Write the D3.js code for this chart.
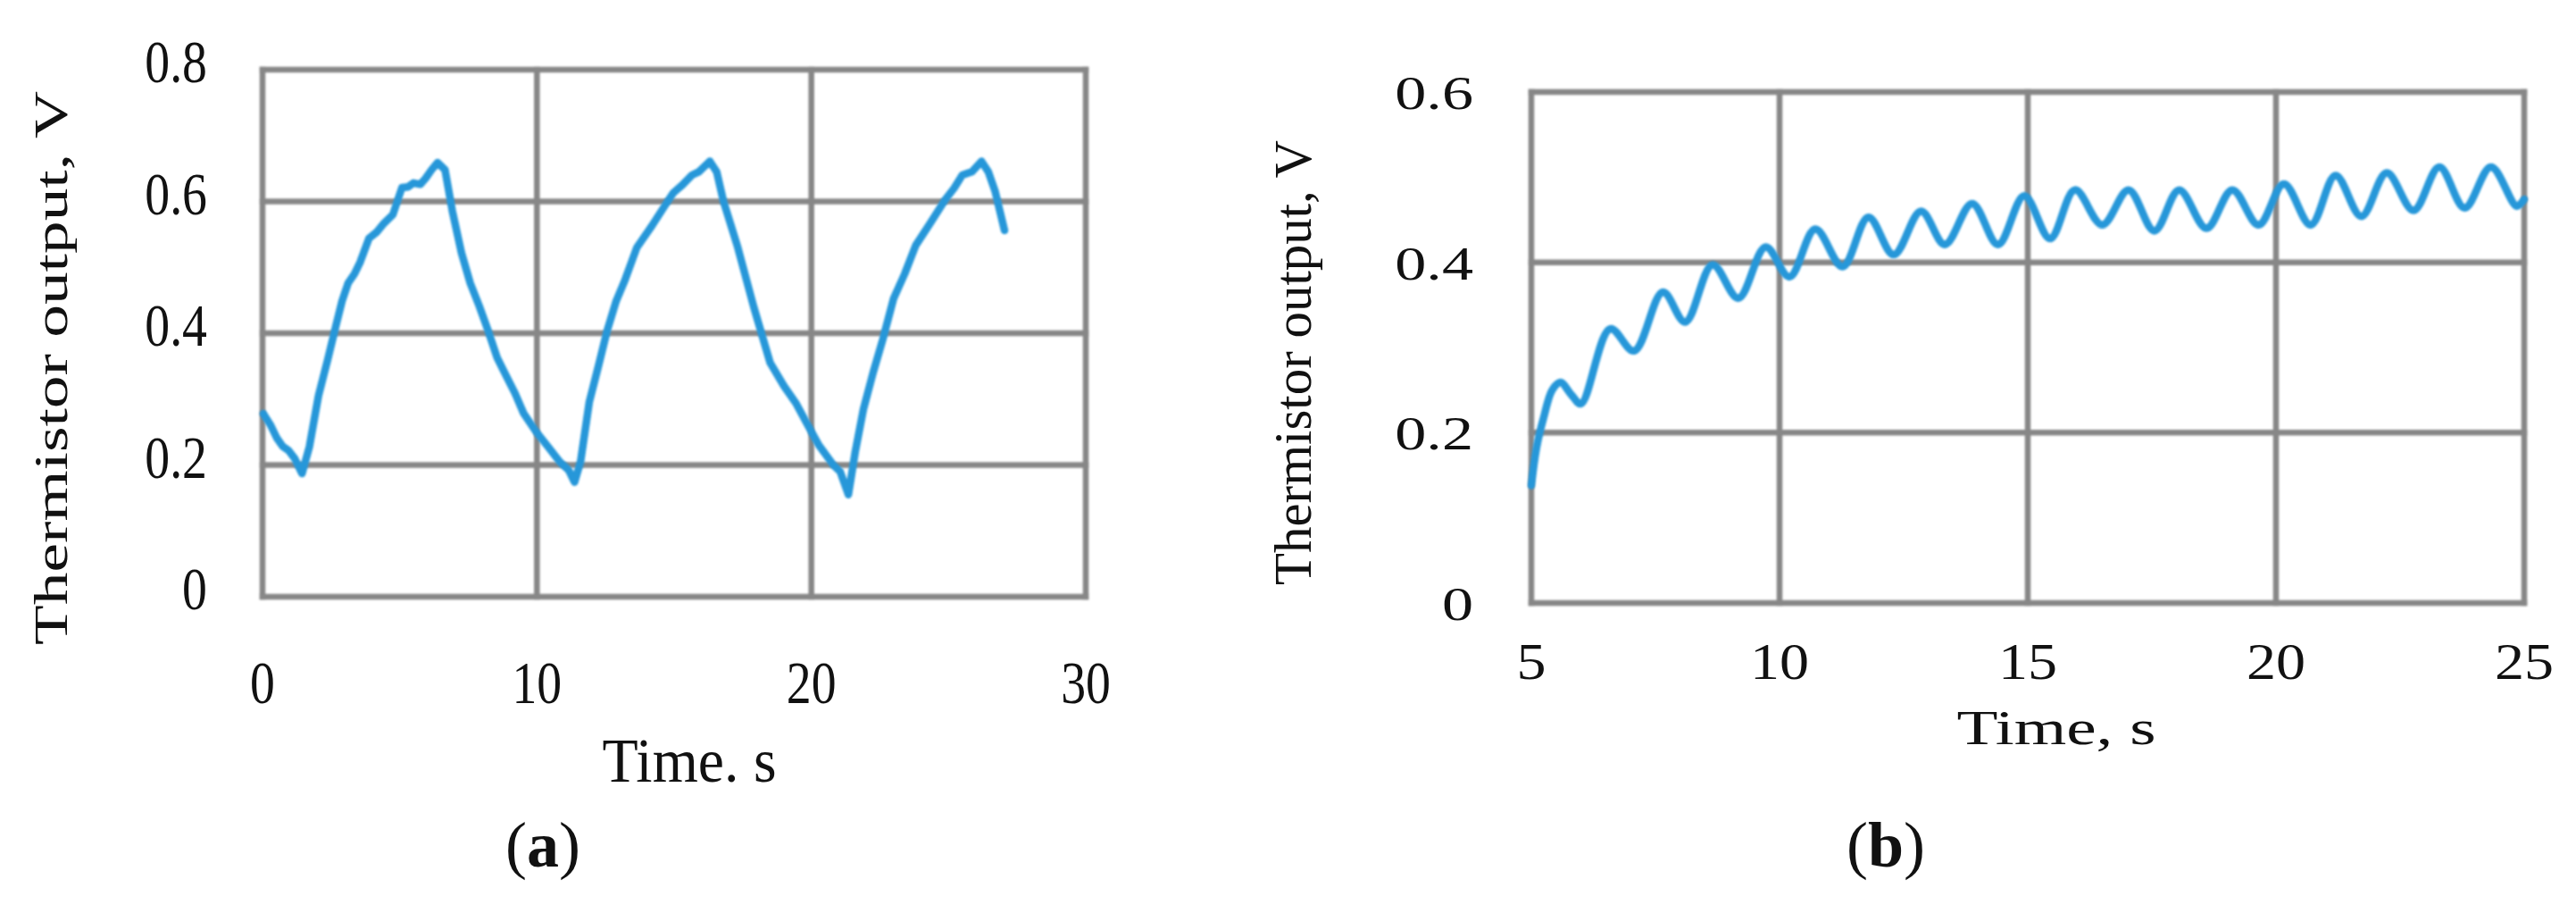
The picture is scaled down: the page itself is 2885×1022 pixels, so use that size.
<!DOCTYPE html>
<html>
<head>
<meta charset="utf-8">
<script src="https://cdn.jsdelivr.net/npm/d3@7"></script>
<style>
  body { margin: 0; background: #fff; }
  text { font-family: "Liberation Serif", "Times New Roman", serif; fill: #111; }
</style>
</head>
<body>
<svg></svg>
<script>
const width = 2885;
const height = 1022;

// panel (a): periodic heating
const timeA = [0.03, 0.3, 0.52, 0.74, 0.95, 1.17, 1.44, 1.71, 2.04, 2.37, 2.69, 2.9, 3.12, 3.35, 3.56,
  3.88, 4.15, 4.43, 4.75, 5.08, 5.3, 5.5, 5.75, 5.94, 6.16, 6.38, 6.65, 6.92, 7.25, 7.57, 7.9,
  8.22, 8.55, 8.87, 9.2, 9.52, 9.96, 10.4, 10.83, 11.16, 11.37, 11.59, 11.91, 12.24, 12.56, 12.89,
  13.21, 13.64, 14.19, 14.73, 14.97, 15.3, 15.65, 15.9, 16.3, 16.55, 16.8, 17.3, 17.9, 18.5, 19.0,
  19.45, 19.85, 20.26, 20.8, 21.05, 21.35, 21.6, 21.9, 22.25, 22.6, 23.0, 23.4, 23.8, 24.3, 24.9,
  25.2, 25.5, 25.85, 26.2, 26.45, 26.7, 27.04];
const voltA = [0.278, 0.26, 0.241, 0.228, 0.222, 0.21, 0.187, 0.228, 0.305, 0.359, 0.414, 0.449, 0.476, 0.49, 0.508,
  0.544, 0.553, 0.567, 0.58, 0.621, 0.622, 0.628, 0.626, 0.635, 0.648, 0.659, 0.648, 0.585, 0.522, 0.476, 0.441,
  0.404, 0.363, 0.336, 0.309, 0.278, 0.251, 0.228, 0.205, 0.192, 0.174, 0.205, 0.296, 0.35, 0.404, 0.449,
  0.481, 0.53, 0.563, 0.598, 0.613, 0.625, 0.64, 0.645, 0.661, 0.645, 0.6, 0.533, 0.44, 0.355, 0.32,
  0.293, 0.262, 0.231, 0.2, 0.19, 0.155, 0.22, 0.285, 0.34, 0.39, 0.453, 0.49, 0.533, 0.565, 0.604,
  0.62, 0.64, 0.645, 0.661, 0.645, 0.615, 0.556];

// panel (b): fast pulsing, peaks and troughs
const timeB = [5.0, 5.11, 5.25, 5.42, 5.59, 5.8, 6.0, 6.59, 7.07, 7.65, 8.1, 8.65, 9.17, 9.72, 10.2,
  10.72, 11.27, 11.79, 12.3, 12.85, 13.33, 13.88, 14.4, 14.93, 15.45, 15.95, 16.5, 17.03, 17.55,
  18.05, 18.6, 19.12, 19.65, 20.16, 20.7, 21.2, 21.72, 22.23, 22.77, 23.29, 23.8, 24.33, 24.85, 25.0];
const voltB = [0.138, 0.184, 0.218, 0.25, 0.259, 0.245, 0.234, 0.322, 0.296, 0.365, 0.33, 0.397, 0.358, 0.418, 0.383,
  0.439, 0.395, 0.453, 0.409, 0.46, 0.421, 0.469, 0.421, 0.478, 0.428, 0.485, 0.444, 0.485, 0.437,
  0.485, 0.44, 0.485, 0.444, 0.492, 0.444, 0.502, 0.454, 0.505, 0.461, 0.512, 0.464, 0.512, 0.466, 0.474];

const ticksAX = [0, 10, 20, 30];
const ticksAY = [0, 0.2, 0.4, 0.6, 0.8];
const labelsAY = ["0", "0.2", "0.4", "0.6", "0.8"];
const ticksBX = [5, 10, 15, 20, 25];
const ticksBY = [0, 0.2, 0.4, 0.6];
const labelsBY = ["0", "0.2", "0.4", "0.6"];

const svg = d3.select("svg")
  .attr("width", width)
  .attr("height", height);

svg.append("rect").attr("width", width).attr("height", height).attr("fill", "#fff");

const defs = svg.append("defs");
defs.append("filter").attr("id", "soft")
  .append("feGaussianBlur").attr("stdDeviation", 0.9);

// text helper: optional horizontal squeeze/stretch and rotation
function label(g, txt, x, y, o) {
  let tr = `translate(${x},${y}) scale(${o.sx || 1},1)`;
  if (o.rotate) tr += " rotate(-90)";
  const t = g.append("g").attr("transform", tr)
    .append("text")
    .attr("text-anchor", o.anchor || "middle")
    .attr("font-size", o.size)
    .attr("dy", o.dy || 0)
    .text(txt);
  if (o.length) t.attr("textLength", o.length).attr("lengthAdjust", "spacingAndGlyphs");
  return t;
}

function caption(g, letter, x, y) {
  const t = g.append("text")
    .attr("x", x).attr("y", y)
    .attr("text-anchor", "middle")
    .attr("font-size", 72);
  t.append("tspan").text("(");
  t.append("tspan").attr("font-weight", "bold").text(letter);
  t.append("tspan").text(")");
}

function drawPanel(p) {
  const x = d3.scaleLinear().domain(p.xDomain).range([p.left, p.right]);
  const y = d3.scaleLinear().domain(p.yDomain).range([p.bottom, p.top]);
  const g = svg.append("g");

  const grid = g.append("g")
    .attr("filter", "url(#soft)")
    .attr("stroke", "#878787")
    .attr("stroke-width", 6.5)
    .attr("stroke-linecap", "square");

  grid.selectAll("line.v")
    .data(p.xTicks)
    .enter()
    .append("line")
    .attr("class", "v")
    .attr("x1", d => x(d)).attr("x2", d => x(d))
    .attr("y1", p.top).attr("y2", p.bottom);

  grid.selectAll("line.h")
    .data(p.yTicks)
    .enter()
    .append("line")
    .attr("class", "h")
    .attr("y1", d => y(d)).attr("y2", d => y(d))
    .attr("x1", p.left).attr("x2", p.right);

  const line = d3.line()
    .x(d => x(d[0]))
    .y(d => y(d[1]))
    .curve(p.curve);

  g.append("path")
    .datum(d3.zip(p.time, p.volt))
    .attr("d", line)
    .attr("fill", "none")
    .attr("stroke", "#2797d9")
    .attr("stroke-width", 8.5)
    .attr("stroke-linejoin", "round")
    .attr("stroke-linecap", "round")
    .attr("filter", "url(#soft)");

  p.xTicks.forEach(t => label(g, String(t), x(t), p.xLabelY, { size: p.xSize, sx: p.xSx }));
  p.yTicks.forEach((t, i) => label(g, p.yLabels[i], p.yLabelX, y(t) + p.yShift,
    { size: p.ySize, sx: p.ySx, anchor: "end", dy: "0.33em" }));

  label(g, p.xTitle, p.xTitleX, p.xTitleY, { size: p.xTitleSize, length: p.xTitleLen });
  label(g, "Thermistor output,  V", p.yTitleX, p.yTitleY,
    { size: p.yTitleSize, length: p.yTitleLen, rotate: true, sx: p.yTitleSx });

  caption(g, p.letter, p.capX, 970);
}

drawPanel({
  left: 294, right: 1216, top: 78, bottom: 668,
  xDomain: [0, 30], yDomain: [0, 0.8],
  xTicks: ticksAX, yTicks: ticksAY, yLabels: labelsAY,
  time: timeA, volt: voltA, curve: d3.curveLinear,
  xLabelY: 787, xSize: 68, xSx: 0.82,
  yLabelX: 232, yShift: -8, ySize: 68, ySx: 0.82,
  xTitle: "Time. s", xTitleX: 772, xTitleY: 875, xTitleSize: 70, xTitleLen: 195,
  yTitleX: 75, yTitleY: 412, yTitleSize: 70, yTitleLen: 620, yTitleSx: 0.75,
  letter: "a", capX: 608
});

drawPanel({
  left: 1715, right: 2827, top: 103, bottom: 675,
  xDomain: [5, 25], yDomain: [0, 0.6],
  xTicks: ticksBX, yTicks: ticksBY, yLabels: labelsBY,
  time: timeB, volt: voltB, curve: d3.curveCatmullRom.alpha(0.5),
  xLabelY: 760, xSize: 56, xSx: 1.18,
  yLabelX: 1650, yShift: 2, ySize: 52, ySx: 1.35,
  xTitle: "Time, s", xTitleX: 2303, xTitleY: 833, xTitleSize: 55, xTitleLen: 223,
  yTitleX: 1468, yTitleY: 406, yTitleSize: 59, yTitleLen: 498, yTitleSx: 1,
  letter: "b", capX: 2112
});
</script>
</body>
</html>
